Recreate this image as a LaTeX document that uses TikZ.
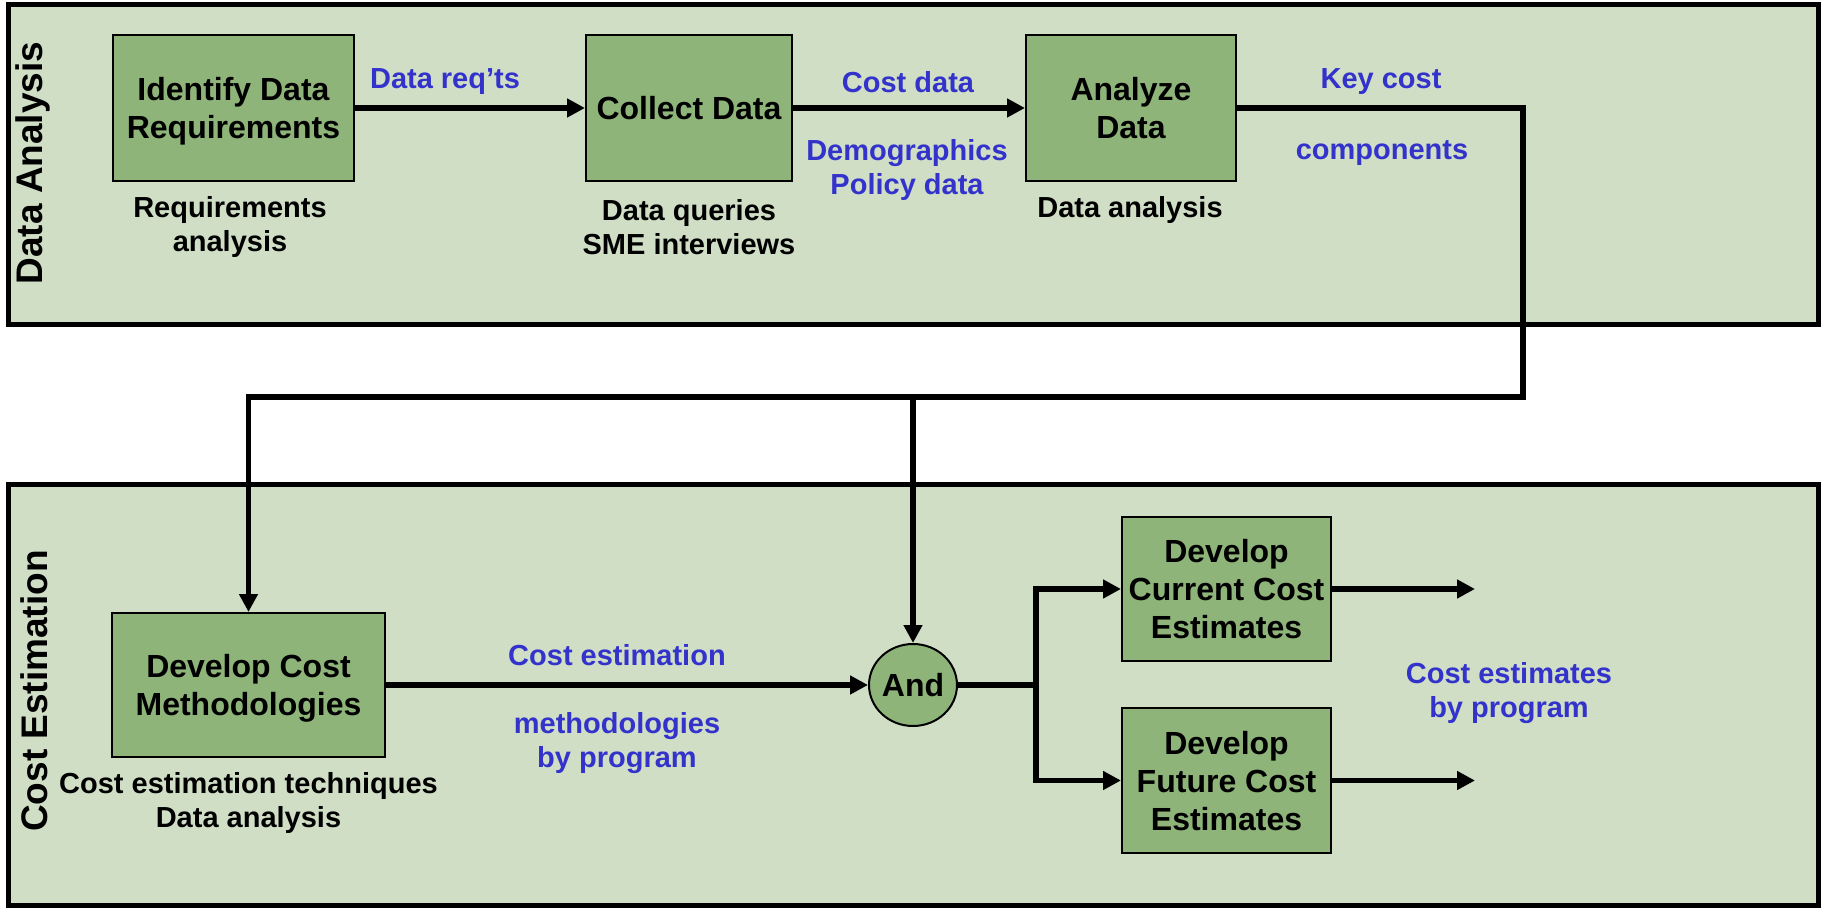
\documentclass[tikz,border=0pt]{standalone}
\usepackage{fontspec}
\setmainfont{Liberation Sans}
\usetikzlibrary{arrows.meta,shapes.geometric,calc}
\definecolor{panelfill}{HTML}{D0DEC6}
\definecolor{boxfill}{HTML}{8FB47A}
\definecolor{flowblue}{HTML}{3333CC}
\begin{document}
\begin{tikzpicture}[x=0.5pt,y=-0.5pt,
  panel/.style={draw=black,line width=2.5pt,fill=panelfill},
  procbox/.style={draw=black,line width=1pt,fill=boxfill,inner sep=0pt,align=center,
    text depth=0pt,font=\fontsize{16}{19}\selectfont\bfseries},
  sublabel/.style={align=center,inner sep=0pt,yshift=-1.5pt,font=\fontsize{14.5}{17}\selectfont\bfseries},
  flowlabel/.style={sublabel,text=flowblue},
  lanetitle/.style={rotate=90,inner sep=0pt,font=\fontsize{18.5}{22}\selectfont\bfseries},
  wire/.style={line width=2.75pt},
  flow/.style={wire,-{Triangle[length=9pt,width=9pt]}},
]
\useasboundingbox (0,0) rectangle (1825,908);

% swim lanes
\path[panel] (8,5) rectangle (1818,325);
\path[panel] (8,485) rectangle (1818,905);
\node[lanetitle] (laneA) at (33,163) {Data Analysis};
\node[lanetitle] (laneB) at (34,691) {Cost Estimation};

% data analysis steps
\node[procbox,minimum width=120.5pt,minimum height=73pt] (idreq) at (233.5,108) {Identify Data\\Requirements};
\node[procbox,minimum width=103pt,minimum height=73pt] (collect) at (689,108) {Collect Data};
\node[procbox,minimum width=105pt,minimum height=73pt] (analyze) at (1131,108) {Analyze\\Data};

\node[sublabel] (idreqsub) at (230,224) {Requirements\\analysis};
\node[sublabel] (collectsub) at (689,224) {Data queries\\SME interviews};
\node[sublabel] (analyzesub) at (1130,207) {Data analysis};

\node[flowlabel] (lblreq) at (445,79) {Data req’ts};
\node[flowlabel] (lblcost) at (908,79) {Cost data};
\node[flowlabel] (lbldemo) at (907,167) {Demographics\\Policy data};
\node[flowlabel] (lblkey) at (1381,79) {Key cost};
\node[flowlabel] (lblcomp) at (1382,150) {components};

% cost estimation steps
\node[procbox,minimum width=136.5pt,minimum height=72pt] (devmeth) at (248.5,685) {Develop Cost\\Methodologies};
\node[ellipse,draw=black,line width=1pt,fill=boxfill,minimum width=39.5pt,minimum height=41pt,inner sep=0pt,
  font=\fontsize{16}{19}\selectfont\bfseries] (andgate) at (913,685) {And};
\node[procbox,minimum width=104.5pt,minimum height=72pt] (curest) at (1226.5,589) {Develop\\Current Cost\\Estimates};
\node[procbox,minimum width=104.5pt,minimum height=72.5pt] (futest) at (1226.5,780.5) {Develop\\Future Cost\\Estimates};

\node[sublabel] (devmethsub) at (248.5,800) {Cost estimation techniques\\Data analysis};
\node[flowlabel] (lblest) at (617,652) {Cost estimation};
\node[flowlabel] (lblmeth) at (617,740) {methodologies\\by program};
\node[flowlabel] (lblout) at (1509,690) {Cost estimates\\by program};

% connectors
\coordinate (corner) at (1523,397);
\coordinate (split) at (1036,685);
\coordinate (curout) at (1475,589);
\coordinate (futout) at (1475,780.5);

\draw[flow] (idreq.east) -- (collect.west);
\draw[flow] (collect.east) -- (analyze.west);
\draw[flow] (analyze.east) -| (corner) -| (devmeth.north);
\draw[flow] (andgate.north |- corner) -- (andgate.north);
\draw[flow] (devmeth.east) -- (andgate.west);
\draw[wire] (andgate.east) -- (split);
\draw[flow] (split) |- (curest.west);
\draw[flow] (split) |- (futest.west);
\draw[flow] (curest.east) -- (curout);
\draw[flow] (futest.east) -- (futout);
\end{tikzpicture}
\end{document}
